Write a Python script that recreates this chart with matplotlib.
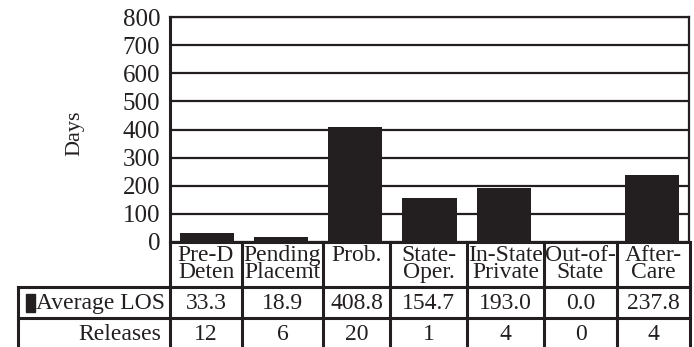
import matplotlib.pyplot as plt
from matplotlib.patches import Rectangle

plt.rcParams['font.family'] = ['Liberation Serif', 'DejaVu Serif']

categories = ["Pre-D\nDeten", "Pending\nPlacemt", "Prob.", "State-\nOper.",
              "In-State\nPrivate", "Out-of-\nState", "After-\nCare"]
avg_los = [33.3, 18.9, 408.8, 154.7, 193.0, 0.0, 237.8]
releases = [12, 6, 20, 1, 4, 0, 4]
row_labels = ["Average LOS", "Releases"]

ink = '#231f20'
W, H = 694, 347
fig = plt.figure(figsize=(W / 100, H / 100), dpi=100)


def fx(x):
    return x / W


def fy(y):
    return 1 - y / H


# chart area in pixels
left, right, top, bottom = 170, 689, 17, 242
ax = fig.add_axes([fx(left), fy(bottom), (right - left) / W, (bottom - top) / H])
ax.bar(range(len(avg_los)), avg_los, width=0.73, color=ink, zorder=3)
ax.set_xlim(-0.5, len(avg_los) - 0.5)
ax.set_ylim(0, 800)
ax.set_yticks(range(0, 801, 100))
ax.set_xticks([])
ax.yaxis.grid(True, color=ink, lw=1.6, zorder=1)
ax.tick_params(axis='y', length=0, pad=7, labelsize=18, colors=ink)
for s in ['left', 'bottom']:
    ax.spines[s].set_linewidth(2.2)
for s in ['right', 'top']:
    ax.spines[s].set_linewidth(1.6)
for s in ax.spines.values():
    s.set_color(ink)
fig.text(fx(75), fy(133), "Days", rotation=90, ha='center', va='center',
         fontsize=16, color=ink)

# data table under the chart
col_x = [170, 242, 323, 390, 467, 544, 617, 690]
row_y = [242, 287, 318, 349]
tab_left = 18
lw = 2.2


def hline(y, x0, x1):
    fig.add_artist(plt.Line2D([fx(x0), fx(x1)], [fy(y), fy(y)], color=ink, lw=lw))


def vline(x, y0, y1):
    fig.add_artist(plt.Line2D([fx(x), fx(x)], [fy(y0), fy(y1)], color=ink, lw=lw))


hline(row_y[1], tab_left, col_x[-1])
hline(row_y[2], tab_left, col_x[-1])
hline(row_y[3], tab_left, col_x[-1])
for x in col_x:
    vline(x, row_y[0], row_y[3])
vline(tab_left, row_y[1], row_y[3])

for i, cat in enumerate(categories):
    cx = (col_x[i] + col_x[i + 1]) / 2
    fig.text(fx(cx), fy(row_y[0] + 3), cat, ha='center', va='top',
             fontsize=17, linespacing=0.78, color=ink)
    fig.text(fx(cx), fy((row_y[1] + row_y[2]) / 2 + 1), f"{avg_los[i]:.1f}",
             ha='center', va='center', fontsize=17, color=ink)
    fig.text(fx(cx), fy((row_y[2] + row_y[3]) / 2 + 1), f"{releases[i]}",
             ha='center', va='center', fontsize=17, color=ink)

fig.add_artist(Rectangle((fx(26), fy(312)), 9 / W, 18 / H, color=ink,
                         transform=fig.transFigure))
fig.text(fx(165), fy((row_y[1] + row_y[2]) / 2 + 1), row_labels[0],
         ha='right', va='center', fontsize=17, color=ink)
fig.text(fx(161), fy((row_y[2] + row_y[3]) / 2 + 1), row_labels[1],
         ha='right', va='center', fontsize=17, color=ink)

fig.savefig("out.png", dpi=100)
